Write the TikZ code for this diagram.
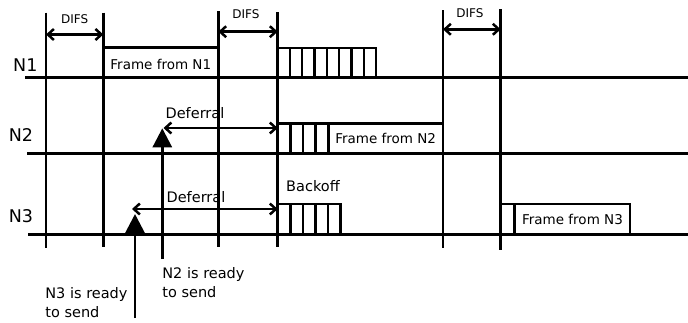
\documentclass[tikz,border=0pt]{standalone}
\usepackage{fontspec}
\setmainfont{DejaVu Sans}
\usetikzlibrary{arrows.meta}
\begin{document}
\begin{tikzpicture}[x=1pt,y=-1pt,line width=2.8pt,
  difs/.style={{Straight Barb[length=6pt,width=11pt]}-{Straight Barb[length=6pt,width=11pt]},line width=2.5pt},
  ready/.style={-{Triangle[length=19pt,width=19pt]},line width=2.8pt},
  slot/.style={line width=2.4pt},
  smalltxt/.style={font=\fontsize{12}{14}\selectfont,inner sep=0pt},
  frametxt/.style={font=\fontsize{13.5}{16}\selectfont,inner sep=0pt},
  bigtxt/.style={font=\fontsize{14.5}{18.7}\selectfont,inner sep=0pt},
  stationtxt/.style={font=\fontsize{17.5}{20}\selectfont,inner sep=0pt}]
\useasboundingbox (0,0) rectangle (688,322);

% station axes
\node[stationtxt] (n1) at (25.3,65) {N1};
\draw[line width=3pt] (25,77.7)--(688,77.7);
\node[stationtxt] (n2) at (21,135) {N2};
\draw[line width=3pt] (27,153.3)--(688,153.3);
\node[stationtxt] (n3) at (21,216) {N3};
\draw[line width=3pt] (28,234)--(688,234);

% time marks
\draw (46,12.7)--(46,248.3);
\draw (103.3,12.7)--(103.3,247);
\draw (218.3,11)--(218.3,246.7);
\draw (277.7,12)--(277.7,247);
\draw (443,10)--(443,248);
\draw (500.7,9)--(500.7,250);

% DIFS
\coordinate (d1a) at (46,34.5);
\coordinate (d1b) at (103.3,34.5);
\draw[difs] (d1a)--(d1b);
\node[smalltxt] (difs1) at (74.7,19) {DIFS};
\coordinate (d2a) at (218.3,31.7);
\coordinate (d2b) at (277.7,31.7);
\draw[difs] (d2a)--(d2b);
\node[smalltxt] (difs2) at (246,14) {DIFS};
\coordinate (d3a) at (443,29.3);
\coordinate (d3b) at (500.7,29.3);
\draw[difs] (d3a)--(d3b);
\node[smalltxt] (difs3) at (470,12.8) {DIFS};

% N1
\draw (103.3,47.7) rectangle (218.3,77.7);
\node[frametxt] (f1) at (160.8,64) {Frame from N1};
\draw (277.7,48) rectangle (376,77.7);
\foreach \i in {1,...,7}
  \draw[slot] (277.7+\i*12.29,48)--(277.7+\i*12.29,77.7);

% N2
\draw (277.7,123.3) rectangle (328.3,153.3);
\foreach \i in {1,2,3}
  \draw[slot] (277.7+\i*12.65,123.3)--(277.7+\i*12.65,153.3);
\draw (328.3,123.3) rectangle (443,153.3);
\node[frametxt] (f2) at (385.7,138) {Frame from N2};
\coordinate (df2a) at (163.5,128);
\coordinate (df2b) at (277.7,128);
\draw[difs] (df2a)--(df2b);
\node[bigtxt] (def2) at (195,113.5) {Deferral};

% N3
\draw (277.7,204) rectangle (340.7,234);
\foreach \i in {1,...,4}
  \draw[slot] (277.7+\i*12.6,204)--(277.7+\i*12.6,234);
\node[bigtxt] (boff) at (313,186.5) {Backoff};
\coordinate (df3a) at (132,209);
\coordinate (df3b) at (277.7,209);
\draw[difs] (df3a)--(df3b);
\node[bigtxt] (def3) at (196,197) {Deferral};
\draw (500.7,204) rectangle (514.3,234);
\draw (514.3,204) rectangle (630,234);
\node[frametxt] (f3) at (572.5,219.5) {Frame from N3};

% ready
\coordinate (r2a) at (162.3,259);
\coordinate (r2b) at (162.3,128.3);
\draw[ready] (r2a)--(r2b);
\node[bigtxt,align=left,anchor=north west] (rdy2) at (161,266.5) {N2 is ready\\to send};
\coordinate (r3a) at (135,318);
\coordinate (r3b) at (135,214);
\draw[ready] (r3a)--(r3b);
\node[bigtxt,align=left,anchor=north west] (rdy3) at (44,286.5) {N3 is ready\\to send};
\end{tikzpicture}
\end{document}
